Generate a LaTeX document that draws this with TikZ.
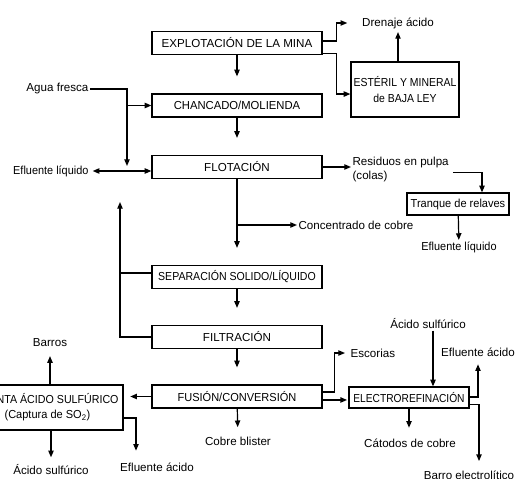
\documentclass[tikz,border=0pt]{standalone}
\usepackage{fontspec}
\usepackage{graphicx}
\setmainfont{Liberation Sans}
\usetikzlibrary{arrows.meta}
\newcommand{\estrecho}[2][0.9]{\scalebox{#1}[1]{#2}}
\tikzset{
  etapa/.style={draw, line width=0.9pt, minimum width=127.5pt, minimum height=17.25pt, inner sep=0pt},
  caja/.style={draw, line width=0.9pt, inner sep=0pt, align=center},
  rotulo/.style={inner sep=1pt, align=center},
  linea/.style={line width=0.9pt},
  flecha/.style={line width=0.9pt, -{Triangle[length=5pt,width=4pt]}},
}

\begin{document}
\begin{tikzpicture}[x=0.75pt,y=-0.75pt,font=\fontsize{8.7}{11}\selectfont]
  \clip (0,0) rectangle (517,478);
  % etapas principales
  \node[etapa] (expl) at (237,43) {EXPLOTACIÓN DE LA MINA};
  \node[etapa] (chanc) at (237,105.5) {\estrecho[0.97]{CHANCADO/MOLIENDA}};
  \node[etapa] (flot) at (237,167) {FLOTACIÓN};
  \node[etapa] (sep) at (237,277) {\estrecho[0.91]{SEPARACIÓN SOLIDO/LÍQUIDO}};
  \node[etapa] (filt) at (237,337) {FILTRACIÓN};
  \node[etapa] (fus) at (237,396.5) {\estrecho[0.95]{FUSIÓN/CONVERSIÓN}};
  % cajas laterales
  \node[caja, minimum width=81pt, minimum height=41.25pt] (esteril) at (405,89.5) {\estrecho{ESTÉRIL Y MINERAL}\\[1.5pt]\estrecho{de BAJA LEY}};
  \node[caja, minimum width=76.5pt, minimum height=16.5pt] (tranque) at (458,204) {\estrecho[0.95]{Tranque de relaves}};
  \node[caja, minimum width=90pt, minimum height=15.75pt] (electro) at (409,397.5) {\estrecho[0.88]{ELECTROREFINACIÓN}};
  \node[caja, minimum width=113.25pt, minimum height=33.75pt] (planta) at (47.5,407.5) {\estrecho[0.92]{PLANTA ÁCIDO SULFÚRICO}\\\estrecho[0.95]{(Captura de SO\textsubscript{2})}};
  % rotulos
  \node[rotulo] (drenaje) at (398,23) {Drenaje ácido};
  \node[rotulo, anchor=east] (agua) at (90,89) {Agua fresca};
  \node[rotulo, anchor=east] (eflu1) at (90,171) {\estrecho[0.94]{Efluente líquido}};
  \node[rotulo, anchor=west, align=left, font=\fontsize{8.7}{10.5}\selectfont] (residuos) at (351,169) {Residuos en pulpa\\(colas)};
  \node[rotulo, anchor=west] (conc) at (297,225) {Concentrado de cobre};
  \node[rotulo] (eflu2) at (459,247) {\estrecho[0.94]{Efluente líquido}};
  \node[rotulo] (barros) at (50,343) {Barros};
  \node[rotulo] (acido1) at (51,470) {Ácido sulfúrico};
  \node[rotulo] (eflu3) at (157,467) {Efluente ácido};
  \node[rotulo] (cobre) at (238,441) {Cobre blister};
  \node[rotulo, anchor=west] (escorias) at (349,353) {Escorias};
  \node[rotulo] (acido2) at (428,324) {Ácido sulfúrico};
  \node[rotulo] (eflu4) at (478,352) {Efluente ácido};
  \node[rotulo] (catodos) at (410,443) {Cátodos de cobre};
  \node[rotulo] (barro) at (469,475) {Barro electrolítico};
  \coordinate (bajada) at (127,166);
  \coordinate (retorno) at (120,202);
  % columna central
  \draw[flecha, shorten >=12.75pt] (expl) -- (chanc);
  \draw[flecha, shorten >=12.75pt] (chanc) -- (flot);
  \draw[flecha, shorten >=12.75pt] (flot) -- (sep);
  \draw[flecha, shorten >=12.75pt] (sep) -- (filt);
  \draw[flecha, shorten >=12.75pt] (filt) -- (fus);
  \draw[flecha, shorten >=6pt] (fus) -- (cobre);
  \draw[flecha] (flot.south |- conc.west) -- (conc.west);
  % mina
  \draw[flecha, shorten >=10pt] ([yshift=1.5pt]expl.east) -- ++(14,0) |- (drenaje.west);
  \draw[flecha] ([yshift=1pt]expl.south east) -- ++(14,0) |- ([yshift=-3.4pt]esteril.west);
  \draw[flecha, shorten >=1.5pt] (drenaje.south |- esteril.north) -- (drenaje.south);
  % agua y efluente
  \draw[flecha] (agua.east) -| (bajada);
  \draw[flecha] (bajada |- chanc.west) -- (chanc.west);
  \draw[linea, {Triangle[length=5pt,width=4pt]}-{Triangle[length=5pt,width=4pt]}, shorten <=2pt] (eflu1.east) -- (eflu1.east -| flot.west);
  \draw[flecha] (filt.west) -| (retorno);
  \draw[linea] ([yshift=3pt]sep.west) -- ([yshift=3pt]sep.west -| retorno);
  % relaves
  \draw[flecha] (flot.east) -- (flot.east -| residuos.west);
  \draw[flecha, shorten <=2pt] ([yshift=-2.8pt]residuos.east) -| ([xshift=18pt]tranque.north);
  \draw[flecha] (tranque) -- (eflu2);
  % planta de acido
  \draw[flecha, shorten >=5pt] (fus.west) -- (fus.west -| planta.east);
  \draw[flecha, shorten >=5.6pt] (barros.south |- planta.north) -- (barros.south);
  \draw[flecha, shorten >=4.5pt] (acido1.north |- planta.south) -- (acido1.north);
  \draw[flecha, shorten >=7.8pt] ([yshift=-7.9pt]planta.east) -| ([xshift=-15.75pt]eflu3.north);
  % electrorefinacion
  \draw[flecha, shorten >=3pt] ([yshift=3.4pt]fus.east) -- ++(12,0) |- (escorias.west);
  \draw[flecha, shorten >=1pt] ([yshift=-2.6pt]fus.east) -- ([yshift=-2.6pt]fus.east -| electro.west);
  \draw[flecha] ([xshift=3.75pt]acido2.south) -- ([xshift=3.75pt]acido2.south |- electro.north);
  \draw[flecha, shorten >=4.8pt] ([yshift=0.4pt]electro.east) -| (eflu4.south);
  \draw[flecha, shorten >=6pt] ([yshift=-5pt]electro.east) -| ([xshift=7.5pt]barro.north);
  \draw[flecha, shorten >=7pt] (electro) -- (electro |- catodos.north);
\end{tikzpicture}
\end{document}
